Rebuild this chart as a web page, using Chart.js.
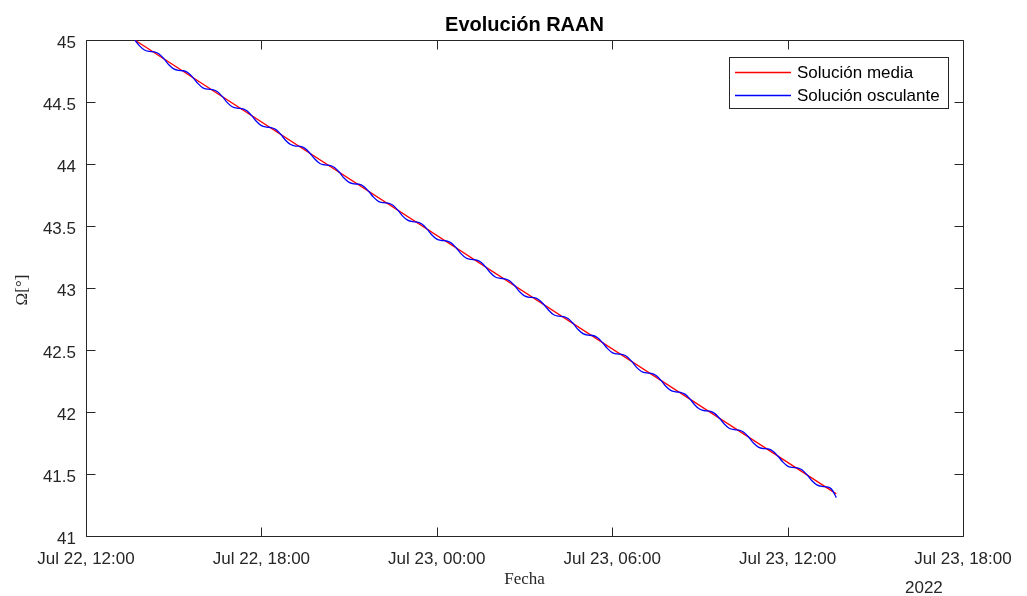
<!DOCTYPE html>
<html lang="es">
<head>
<meta charset="UTF-8">
<title>Evolución RAAN</title>
<script src="https://cdn.jsdelivr.net/npm/chart.js@4.4.0/dist/chart.umd.min.js"></script>
<style>
    body { margin: 0; background: #fff; }
    canvas { display: block; }
</style>
</head>
<body>
<canvas id="raan" width="1027" height="596"></canvas>
<script>
// x en horas desde Jul 22, 00:00
const xTicks = [12, 18, 24, 30, 36, 42];
const xTickLabels = ['Jul 22, 12:00', 'Jul 22, 18:00', 'Jul 23, 00:00', 'Jul 23, 06:00', 'Jul 23, 12:00', 'Jul 23, 18:00'];
const yTicks = [41, 41.5, 42, 42.5, 43, 43.5, 44, 44.5, 45];
const yTickLabels = ['41', '41.5', '42', '42.5', '43', '43.5', '44', '44.5', '45'];

const mediaTimes = [13.667, 37.667];
const mediaValues = [45.0, 41.34];

// solución osculante, una muestra cada 10 min desde Jul 22, 13:40
const oscStart = 13.667;
const oscStep = 1 / 6;
const oscValues = [
    45.000, 44.953, 44.919, 44.908, 44.904, 44.887,
    44.848, 44.800, 44.767, 44.755, 44.752, 44.734,
    44.695, 44.648, 44.614, 44.603, 44.599, 44.582,
    44.543, 44.495, 44.462, 44.450, 44.447, 44.429,
    44.390, 44.343, 44.309, 44.298, 44.294, 44.277,
    44.238, 44.190, 44.157, 44.145, 44.142, 44.124,
    44.085, 44.038, 44.004, 43.993, 43.989, 43.972,
    43.933, 43.885, 43.852, 43.840, 43.837, 43.819,
    43.780, 43.733, 43.699, 43.688, 43.684, 43.667,
    43.628, 43.580, 43.547, 43.535, 43.532, 43.514,
    43.475, 43.428, 43.394, 43.383, 43.379, 43.362,
    43.323, 43.275, 43.242, 43.230, 43.227, 43.209,
    43.170, 43.123, 43.089, 43.078, 43.074, 43.057,
    43.018, 42.970, 42.937, 42.925, 42.922, 42.904,
    42.865, 42.818, 42.784, 42.773, 42.769, 42.752,
    42.713, 42.665, 42.632, 42.620, 42.617, 42.599,
    42.560, 42.513, 42.479, 42.468, 42.464, 42.447,
    42.408, 42.360, 42.327, 42.315, 42.312, 42.294,
    42.255, 42.208, 42.174, 42.163, 42.159, 42.142,
    42.103, 42.055, 42.022, 42.010, 42.007, 41.989,
    41.950, 41.903, 41.869, 41.858, 41.854, 41.837,
    41.798, 41.750, 41.717, 41.705, 41.702, 41.684,
    41.645, 41.598, 41.564, 41.553, 41.549, 41.532,
    41.493, 41.445, 41.412, 41.400, 41.397, 41.379,
    41.310
];

const axisColor = '#262626';
const tickFont = '17px "Liberation Sans", Arial, sans-serif';

const matlabAxes = {
    id: 'matlabAxes',
    beforeDatasetsDraw(chart) {
        const { ctx, chartArea: a, scales } = chart;
        const L = Math.round(a.left) + 0.5, R = Math.round(a.right) + 0.5;
        const T = Math.round(a.top) + 0.5, B = Math.round(a.bottom) + 0.5;
        const tl = 9;
        ctx.save();
        ctx.strokeStyle = axisColor;
        ctx.lineWidth = 1;
        ctx.beginPath();
        ctx.rect(L, T, R - L, B - T);
        xTicks.forEach(v => {
            const px = Math.round(scales.x.getPixelForValue(v)) + 0.5;
            ctx.moveTo(px, B); ctx.lineTo(px, B - tl);
            ctx.moveTo(px, T); ctx.lineTo(px, T + tl);
        });
        yTicks.forEach(v => {
            const py = Math.round(scales.y.getPixelForValue(v)) + 0.5;
            ctx.moveTo(L, py); ctx.lineTo(L + tl, py);
            ctx.moveTo(R, py); ctx.lineTo(R - tl, py);
        });
        ctx.stroke();
        ctx.restore();
    },
    afterDraw(chart) {
        const { ctx, chartArea: a } = chart;
        const cx = (a.left + a.right) / 2;
        ctx.save();
        ctx.fillStyle = '#000';
        ctx.textAlign = 'center';
        ctx.textBaseline = 'alphabetic';
        ctx.font = 'bold 20px "Liberation Sans", Arial, sans-serif';
        ctx.fillText('Evolución RAAN', cx, 31);

        ctx.fillStyle = axisColor;
        ctx.font = '17px "Liberation Serif", serif';
        ctx.fillText('Fecha', cx, 584);

        ctx.save();
        ctx.translate(27, 290);
        ctx.rotate(-Math.PI / 2);
        ctx.fillText('Ω[°]', 0, 0);
        ctx.restore();

        ctx.font = tickFont;
        ctx.textAlign = 'left';
        ctx.fillText('2022', 905, 593);

        // leyenda
        const bx = 729.5, by = 57.5, bw = 219, bh = 51;
        ctx.fillStyle = '#fff';
        ctx.fillRect(bx, by, bw, bh);
        ctx.strokeStyle = axisColor;
        ctx.lineWidth = 1;
        ctx.strokeRect(bx, by, bw, bh);
        const rows = [72.5, 95.5];
        chart.data.datasets.forEach((ds, i) => {
            ctx.strokeStyle = ds.borderColor;
            ctx.lineWidth = 1.3;
            ctx.beginPath();
            ctx.moveTo(735, rows[i]);
            ctx.lineTo(791, rows[i]);
            ctx.stroke();
            ctx.fillStyle = '#000';
            ctx.font = tickFont;
            ctx.textBaseline = 'middle';
            ctx.fillText(ds.label, 797, rows[i] + 1);
        });
        ctx.restore();
    }
};

new Chart(document.getElementById('raan'), {
    type: 'line',
    data: {
        datasets: [
            {
                label: 'Solución media',
                data: mediaTimes.map((t, i) => ({ x: t, y: mediaValues[i] })),
                borderColor: '#ff0000',
                borderWidth: 1.3,
                pointRadius: 0,
                order: 2
            },
            {
                label: 'Solución osculante',
                data: oscValues.map((v, i) => ({ x: oscStart + i * oscStep, y: v })),
                borderColor: '#0000ff',
                borderWidth: 1.3,
                pointRadius: 0,
                cubicInterpolationMode: 'monotone',
                order: 1
            }
        ]
    },
    options: {
        responsive: false,
        animation: false,
        devicePixelRatio: 1,
        layout: { padding: { top: 40, right: 64, left: 0, bottom: 0 } },
        plugins: {
            legend: { display: false },
            tooltip: { enabled: false },
            title: { display: false }
        },
        scales: {
            x: {
                type: 'linear',
                min: 12,
                max: 42,
                grid: { display: false, drawTicks: false },
                border: { display: false },
                ticks: {
                    stepSize: 6,
                    autoSkip: false,
                    maxRotation: 0,
                    padding: 13,
                    color: axisColor,
                    font: { family: '"Liberation Sans", Arial, sans-serif', size: 17 },
                    callback: v => {
                        const i = xTicks.indexOf(v);
                        return i >= 0 ? xTickLabels[i] : '';
                    }
                },
                afterFit: s => { s.height = 60; }
            },
            y: {
                min: 41,
                max: 45,
                grid: { display: false, drawTicks: false },
                border: { display: false },
                ticks: {
                    stepSize: 0.5,
                    padding: 10,
                    labelOffset: 3,
                    color: axisColor,
                    font: { family: '"Liberation Sans", Arial, sans-serif', size: 17 },
                    callback: v => {
                        const i = yTicks.indexOf(v);
                        return i >= 0 ? yTickLabels[i] : '';
                    }
                },
                afterFit: s => { s.width = 86; }
            }
        }
    },
    plugins: [matlabAxes]
});
</script>
</body>
</html>
